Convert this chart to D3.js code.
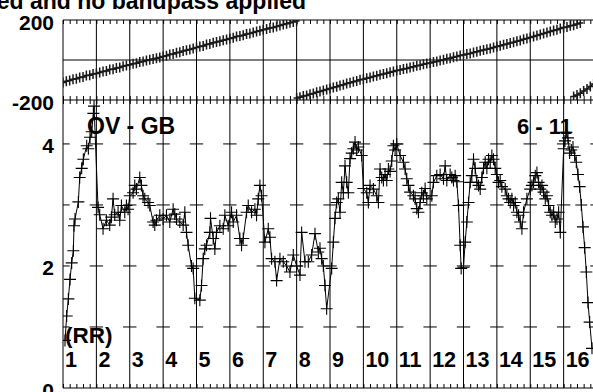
<!DOCTYPE html>
<html><head><meta charset="utf-8">
<script src="https://cdn.jsdelivr.net/npm/d3@7"></script>
<style>html,body{margin:0;padding:0;background:#fff;overflow:hidden}</style>
</head><body><svg id="c" width="593" height="392"></svg>
<script>
// ---------- data ----------
const beatLabels = ["1","2","3","4","5","6","7","8","9","10","11","12","13","14","15","16"];
const phaseTickValues = [200, -200];
const rrTickValues = [0, 2, 4];
const rrGridValues = [1, 2, 3, 4];
const titleText = "ed and no bandpass applied";
const leadLabel = "OV - GB";
const rangeLabel = "6 - 11";
const unitLabel = "(RR)";

// phase (degrees) vs time (beats), three wrapped segments
const phaseSeg1 = [[0,-112],[0.1,-106],[0.2,-103],[0.3,-96],[0.4,-94],[0.5,-87],[0.6,-85],[0.7,-78],[0.8,-76],[0.9,-70],
[1,-67],[1.1,-63],[1.2,-57],[1.3,-55],[1.4,-48],[1.5,-46],[1.6,-40],[1.7,-37],[1.8,-31],[1.9,-28],
[2,-24],[2.1,-19],[2.2,-16],[2.3,-10],[2.4,-7],[2.5,-2],[2.6,1],[2.7,5],[2.8,9],[2.9,13],
[3,18],[3.1,21],[3.2,27],[3.3,30],[3.4,36],[3.5,39],[3.6,45],[3.7,49],[3.8,53],[3.9,58],
[4,62],[4.1,68],[4.2,70],[4.3,77],[4.4,80],[4.5,86],[4.6,90],[4.7,94],[4.8,99],[4.9,102],
[5,108],[5.1,111],[5.2,117],[5.3,120],[5.4,124],[5.5,130],[5.6,133],[5.7,138],[5.8,142],[5.9,146],
[6,151],[6.1,155],[6.2,160],[6.3,163],[6.4,168],[6.5,172],[6.6,177],[6.7,181],[6.8,186],[6.9,190],[7,195]];
const phaseSeg2 = [[7,-190],[7.1,-186],[7.2,-180],[7.3,-177],[7.4,-171],[7.5,-167],[7.6,-161],[7.7,-157],[7.8,-152],[7.9,-147],
[8,-143],[8.1,-137],[8.2,-134],[8.3,-128],[8.4,-124],[8.5,-118],[8.6,-114],[8.7,-109],[8.8,-105],[8.9,-99],
[9,-96],[9.1,-91],[9.2,-88],[9.3,-82],[9.4,-79],[9.5,-74],[9.6,-70],[9.7,-66],[9.8,-61],[9.9,-57],
[10,-53],[10.1,-50],[10.2,-45],[10.3,-42],[10.4,-37],[10.5,-34],[10.6,-29],[10.7,-26],[10.8,-21],[10.9,-18],
[11,-15],[11.1,-10],[11.2,-7],[11.3,-2],[11.4,1],[11.5,6],[11.6,9],[11.7,14],[11.8,17],[11.9,22],
[12,25],[12.1,30],[12.2,33],[12.3,38],[12.4,41],[12.5,46],[12.6,50],[12.7,54],[12.8,58],[12.9,62],
[13,67],[13.1,71],[13.2,76],[13.3,80],[13.4,85],[13.5,89],[13.6,94],[13.7,98],[13.8,104],[13.9,108],
[14,113],[14.1,117],[14.2,123],[14.3,127],[14.4,132],[14.5,137],[14.6,142],[14.7,147],[14.8,151],[14.9,157],
[15,162],[15.1,165],[15.2,171],[15.3,174],[15.4,180],[15.5,185]];
const phaseSeg3 = [[15.3,-182],[15.4,-175],[15.5,-166],[15.6,-155],[15.7,-145],[15.8,-132],[15.9,-120]];

// RR-normalised values vs time (beats)
const rrSeries = [
[0.06,0.78],[0.11,1.18],[0.16,1.46],[0.21,1.78],[0.26,2.05],[0.31,2.25],[0.33,2.66],[0.36,2.77],[0.46,3.05],[0.5,3.45],[0.56,3.6],[0.61,3.75],[0.71,3.97],[0.76,3.92],[0.81,4.11],[0.86,4.2],[0.91,4.5],[0.93,4.62],
[1.05,2.96],[1.1,2.84],[1.2,2.61],[1.3,2.75],[1.4,2.67],[1.45,2.8],[1.5,3.1],[1.55,2.84],[1.65,2.88],[1.7,2.75],[1.75,2.99],[1.85,2.88],[1.9,2.99],[1.95,2.93],
[2,3.15],[2.1,3.2],[2.15,3.32],[2.2,3.26],[2.3,3.45],[2.35,3.32],[2.4,3.15],[2.45,3.1],[2.55,3.04],[2.6,2.99],[2.7,2.72],[2.75,2.67],[2.8,2.75],[2.9,2.83],[3,2.77],
[3.1,2.83],[3.2,2.72],[3.3,2.93],[3.35,2.85],[3.4,2.77],[3.5,2.72],[3.6,2.67],[3.65,2.88],[3.7,2.55],[3.75,2.34],[3.85,2.0],[3.9,1.96],[3.95,1.47],
[4.1,1.44],[4.15,1.68],[4.2,2.12],[4.25,2.28],[4.3,2.34],[4.4,2.55],[4.42,2.78],[4.5,2.45],[4.55,2.28],[4.6,2.55],[4.7,2.66],[4.8,2.61],[4.85,2.83],[4.95,2.66],[5.05,2.88],
[5.1,2.72],[5.2,2.83],[5.3,2.45],[5.35,2.34],[5.4,2.45],[5.5,2.88],[5.55,2.99],[5.65,2.88],[5.75,2.93],[5.8,2.83],[5.85,3.1],[5.9,3.32],[5.95,3.15],
[6.05,2.39],[6.15,2.61],[6.2,2.47],[6.25,2.12],[6.35,2.07],[6.4,1.76],[6.5,2.12],[6.6,2.07],[6.7,2.0],[6.8,1.9],[6.9,2.18],[7,2.0],
[7.1,1.85],[7.15,2.55],[7.25,2.07],[7.35,2.07],[7.45,2.18],[7.55,2.53],[7.65,2.23],[7.7,2.29],[7.75,2.12],[7.8,2.0],[7.85,1.68],[7.9,1.3],
[8.05,1.96],[8.1,2.39],[8.15,2.78],[8.2,3.04],[8.25,3.1],[8.3,2.88],[8.35,3.37],[8.4,3.2],[8.45,3.64],[8.5,3.37],[8.55,3.2],[8.6,3.76],[8.65,3.85],[8.7,3.92],[8.75,4.03],[8.8,3.9],[8.85,3.95],[8.95,3.81],
[9,3.27],[9.1,3.2],[9.15,3.04],[9.2,3.32],[9.3,3.26],[9.4,3.15],[9.45,3.04],[9.5,3.59],[9.55,3.45],[9.6,3.4],[9.65,3.5],[9.7,3.4],[9.75,3.59],[9.8,3.55],[9.85,3.72],[9.9,3.97],[9.95,3.9],[10,4.0],
[10.1,3.81],[10.2,3.7],[10.25,3.59],[10.3,3.43],[10.35,3.32],[10.4,3.21],[10.5,3.15],[10.55,3.1],[10.6,2.94],[10.65,2.88],[10.7,3.04],[10.75,3.2],[10.8,3.15],[10.85,3.27],[10.9,3.1],
[11.05,3.15],[11.1,3.37],[11.2,3.48],[11.3,3.5],[11.4,3.43],[11.45,3.64],[11.5,3.4],[11.6,3.5],[11.65,3.45],[11.7,3.4],[11.75,3.48],[11.8,3.38],[11.85,2.99],[11.9,2.34],[11.93,1.96],[12,1.98],
[12.05,2.39],[12.1,2.72],[12.15,3.04],[12.2,3.37],[12.25,3.48],[12.3,3.75],[12.35,3.6],[12.4,3.37],[12.45,3.32],[12.5,3.26],[12.55,3.45],[12.6,3.6],[12.65,3.7],[12.7,3.6],[12.75,3.75],[12.8,3.7],[12.85,3.81],[12.9,3.75],[12.95,3.6],
[13,3.5],[13.05,3.37],[13.1,3.4],[13.15,3.3],[13.25,3.26],[13.3,3.15],[13.35,3.1],[13.4,3.04],[13.45,3.1],[13.5,2.99],[13.55,3.04],[13.6,2.88],[13.65,2.83],[13.7,2.72],[13.75,2.61],[13.8,2.88],[13.9,3.1],
[14,3.26],[14.05,3.32],[14.1,3.37],[14.15,3.48],[14.2,3.53],[14.25,3.37],[14.3,3.26],[14.35,3.32],[14.4,3.21],[14.45,3.1],[14.5,3.15],[14.55,2.99],[14.6,2.88],[14.65,2.83],[14.7,2.88],[14.75,2.72],[14.8,2.77],[14.85,2.88],[14.9,2.55],
[15,3.92],[15.04,4.05],[15.08,4.19],[15.13,4.1],[15.18,3.85],[15.23,3.9],[15.28,3.95],[15.33,3.81],[15.38,3.7],[15.43,3.5],[15.48,3.3],[15.53,3.0],[15.58,2.64],[15.63,2.3],[15.68,1.9],[15.73,1.4],[15.78,1.08],[15.85,0.65]];

// ---------- drawing ----------
const svg = d3.select("#c");
const FONT = "'Liberation Sans', Arial, Helvetica, sans-serif";
const x = d3.scaleLinear().domain([0, 16]).range([63, 597]);
const yTop = d3.scaleLinear().domain([-200, 200]).range([100, 20]);
const yBot = d3.scaleLinear().domain([0, 4.72]).range([388, 100]);
const majorTicks = d3.range(0, 17);
const minorTicks = d3.range(0, 80.5).map(i => i / 5);

const defs = svg.append("defs");
defs.append("clipPath").attr("id", "clipTop").append("rect").attr("x", 63).attr("y", 20).attr("width", 540).attr("height", 80);
defs.append("clipPath").attr("id", "clipBot").append("rect").attr("x", 63).attr("y", 100).attr("width", 540).attr("height", 288);

// title
svg.append("text").attr("x", 306).attr("y", 8.5).attr("text-anchor", "end")
  .attr("font-family", FONT).attr("font-weight", "bold").attr("font-size", 23).text(titleText);

// vertical grid lines
svg.append("g").selectAll("line").data(majorTicks).join("line")
  .attr("x1", d => x(d)).attr("x2", d => x(d)).attr("y1", 20).attr("y2", yBot(0))
  .attr("stroke", "#000").attr("stroke-width", 1);

// horizontal frame lines
[yTop(200), yTop(0), yTop(-200), yBot(0)].forEach(yy => {
  svg.append("line").attr("x1", 63).attr("x2", 600).attr("y1", yy).attr("y2", yy)
    .attr("stroke", "#000").attr("stroke-width", 1);
});

// minor ticks via d3 axes
function minorAxis(axisFn, yy, size) {
  const g = svg.append("g").attr("transform", `translate(0,${yy})`)
    .call(axisFn(x).tickValues(minorTicks).tickSize(size).tickFormat(""));
  g.select(".domain").remove();
  g.selectAll("line").attr("stroke", "#000");
}
minorAxis(d3.axisBottom, yTop(200), 4);
minorAxis(d3.axisTop, yTop(-200), 4);
minorAxis(d3.axisBottom, yTop(-200), 4);
minorAxis(d3.axisTop, yBot(0), 4);

// short horizontal grid dashes in bottom panel
const dashG = svg.append("g").attr("clip-path", "url(#clipBot)");
rrGridValues.forEach(v => {
  dashG.selectAll(null).data(majorTicks).join("line")
    .attr("x1", d => x(d) - 6.7).attr("x2", d => x(d) + 6.7)
    .attr("y1", yBot(v)).attr("y2", yBot(v))
    .attr("stroke", "#000").attr("stroke-width", 1);
});

// left axes labels
function leftLabels(scale, vals) {
  const g = svg.append("g").attr("transform", "translate(63,0)")
    .call(d3.axisLeft(scale).tickValues(vals).tickSize(0).tickPadding(9).tickFormat(d => String(d)));
  g.select(".domain").remove();
  g.selectAll("text").attr("font-family", FONT).attr("font-weight", "bold")
    .attr("font-size", 21).attr("fill", "#000").attr("dy", 9);
}
leftLabels(yTop, phaseTickValues);
leftLabels(yBot, rrTickValues);

// beat labels
svg.append("g").selectAll("text").data(beatLabels).join("text")
  .attr("x", (d, i) => x(i) + 2).attr("y", 366.5)
  .attr("font-family", FONT).attr("font-weight", "bold").attr("font-size", 21.5).text(d => d);

// annotations
const ann = (txt, xx, yy, anchor, fs) => svg.append("text").attr("x", xx).attr("y", yy).attr("text-anchor", anchor)
  .attr("font-family", FONT).attr("font-weight", "bold").attr("font-size", fs).text(txt);
ann(leadLabel, 87, 134, "start", 23);
ann(rangeLabel, 572, 134, "end", 22);
ann(unitLabel, 65, 343, "start", 22.5);

// crosses helper
function crosses(g, data, sx, sy, hw, hh, sw, col) {
  g.selectAll(null).data(data).join("path")
    .attr("d", d => {
      const px = sx(d[0]), py = sy(d[1]);
      return `M${px - hw},${py}H${px + hw}M${px},${py - hh}V${py + hh}`;
    })
    .attr("fill", "none").attr("stroke", col).attr("stroke-width", sw);
}

// top phase panel
const topG = svg.append("g").attr("clip-path", "url(#clipTop)");
const lineTop = d3.line().x(d => x(d[0])).y(d => yTop(d[1]));
[phaseSeg1, phaseSeg2, phaseSeg3].forEach(seg => {
  topG.append("path").attr("d", lineTop(seg)).attr("fill", "none").attr("stroke", "#000").attr("stroke-width", 1.2);
  crosses(topG, seg, x, yTop, 3, 5, 1.5, "#1a1a1a");
});

// bottom panel
const botG = svg.append("g").attr("clip-path", "url(#clipBot)");
const lineBot = d3.line().x(d => x(d[0])).y(d => yBot(d[1]));
botG.append("path").attr("d", lineBot(rrSeries)).attr("fill", "none").attr("stroke", "#000").attr("stroke-width", 1);
crosses(botG, rrSeries, x, yBot, 6, 6, 1.1, "#000");
</script></body></html>
